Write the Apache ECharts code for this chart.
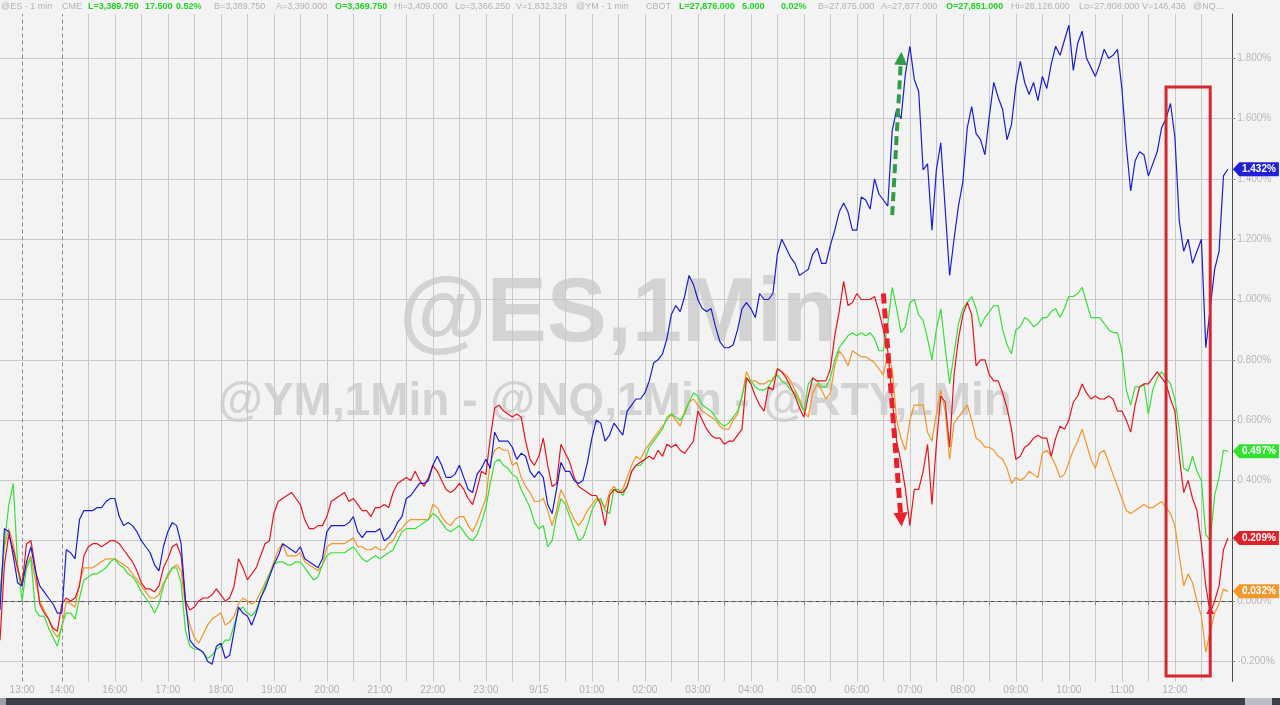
<!DOCTYPE html>
<html>
<head>
<meta charset="utf-8">
<script src="https://cdn.jsdelivr.net/npm/echarts@6/dist/echarts.min.js"></script>
<style>
html,body{margin:0;padding:0;background:#f3f3f4;}
#c{width:1280px;height:705px;}
</style>
</head>
<body>
<div id="c"></div>
<script>
// ---------- data (percent change, 5-minute slots) ----------
const nq = [ // blue
-0.03,0.24,0.23,0.15,0.06,0.05,0.13,0.18,0.10,0.05,
0.03,0.01,-0.01,-0.04,-0.04,0.17,0.16,0.14,0.27,0.30,
0.30,0.30,0.31,0.31,0.33,0.34,0.34,0.28,0.25,0.26,
0.25,0.23,0.20,0.18,0.16,0.12,0.10,0.18,0.23,0.26,
0.25,0.19,0.00,-0.13,-0.15,-0.16,-0.17,-0.20,-0.21,-0.15,
-0.14,-0.19,-0.18,-0.10,-0.02,-0.04,-0.05,-0.08,-0.04,0.01,
0.04,0.08,0.12,0.15,0.19,0.18,0.17,0.16,0.18,0.14,
0.13,0.12,0.11,0.14,0.23,0.25,0.25,0.25,0.25,0.26,
0.28,0.23,0.21,0.23,0.23,0.23,0.24,0.20,0.21,0.23,
0.26,0.28,0.34,0.35,0.37,0.39,0.39,0.40,0.45,0.48,
0.45,0.41,0.41,0.42,0.45,0.41,0.37,0.36,0.42,0.44,
0.47,0.44,0.56,0.53,0.53,0.53,0.51,0.47,0.49,0.48,
0.43,0.41,0.43,0.41,0.32,0.29,0.37,0.46,0.43,0.43,
0.40,0.39,0.40,0.46,0.54,0.60,0.59,0.53,0.55,0.59,
0.57,0.55,0.63,0.65,0.67,0.67,0.69,0.73,0.79,0.80,
0.82,0.87,0.95,0.98,0.96,1.01,1.08,1.05,1.00,0.97,
0.96,0.97,0.91,0.86,0.84,0.84,0.85,0.90,0.97,0.99,
0.97,0.94,1.02,1.00,1.00,1.02,1.15,1.20,1.17,1.14,
1.12,1.08,1.09,1.10,1.15,1.17,1.12,1.12,1.18,1.23,
1.29,1.32,1.29,1.23,1.23,1.34,1.33,1.30,1.40,1.35,
1.33,1.31,1.56,1.63,1.60,1.75,1.84,1.73,1.69,1.43,
1.45,1.23,1.43,1.52,1.30,1.08,1.20,1.31,1.39,1.57,
1.64,1.55,1.53,1.48,1.61,1.72,1.67,1.63,1.53,1.58,
1.71,1.79,1.72,1.68,1.72,1.66,1.74,1.70,1.78,1.84,
1.81,1.86,1.91,1.76,1.85,1.89,1.80,1.77,1.74,1.78,
1.83,1.80,1.81,1.83,1.70,1.51,1.36,1.46,1.49,1.48,
1.41,1.45,1.49,1.57,1.60,1.65,1.54,1.26,1.16,1.20,
1.12,1.16,1.20,0.84,0.97,1.10,1.16,1.41,1.432
];
const es = [ // green
0.00,0.19,0.32,0.39,0.12,0.00,0.11,0.14,-0.03,-0.05,
-0.05,-0.09,-0.12,-0.15,-0.08,-0.04,-0.04,-0.06,0.01,0.07,
0.08,0.09,0.09,0.10,0.11,0.13,0.14,0.12,0.11,0.09,
0.08,0.06,0.03,0.01,-0.01,-0.04,-0.01,0.05,0.09,0.11,
0.11,0.06,-0.10,-0.15,-0.16,-0.16,-0.17,-0.19,-0.18,-0.16,
-0.15,-0.13,-0.13,-0.08,-0.03,-0.02,-0.04,-0.05,-0.03,0.01,
0.05,0.09,0.12,0.13,0.13,0.12,0.12,0.13,0.13,0.11,
0.09,0.07,0.08,0.12,0.15,0.16,0.16,0.16,0.16,0.17,
0.18,0.16,0.14,0.13,0.14,0.15,0.14,0.15,0.16,0.17,
0.20,0.23,0.24,0.24,0.24,0.25,0.26,0.27,0.29,0.28,
0.26,0.24,0.23,0.24,0.25,0.23,0.21,0.20,0.22,0.26,
0.31,0.39,0.46,0.47,0.45,0.44,0.42,0.41,0.37,0.34,
0.31,0.26,0.24,0.25,0.18,0.20,0.28,0.34,0.32,0.28,
0.24,0.20,0.21,0.25,0.30,0.33,0.34,0.30,0.29,0.37,
0.37,0.35,0.38,0.43,0.45,0.45,0.47,0.51,0.53,0.55,
0.57,0.61,0.62,0.61,0.60,0.62,0.66,0.69,0.68,0.65,
0.64,0.63,0.61,0.59,0.58,0.59,0.61,0.63,0.68,0.74,
0.73,0.71,0.70,0.70,0.71,0.74,0.75,0.73,0.72,0.70,
0.69,0.66,0.63,0.72,0.74,0.73,0.71,0.71,0.74,0.80,
0.84,0.86,0.88,0.89,0.88,0.89,0.88,0.89,0.87,0.83,
0.83,0.92,1.04,0.97,0.89,0.91,0.99,1.00,0.95,0.93,
0.87,0.80,0.90,0.97,0.84,0.72,0.82,0.92,0.97,0.99,
1.01,0.97,0.91,0.94,0.96,0.98,0.98,0.90,0.85,0.82,
0.90,0.91,0.94,0.93,0.91,0.92,0.94,0.94,0.96,0.97,
0.94,0.97,1.01,1.01,1.02,1.04,0.99,0.94,0.94,0.94,
0.92,0.90,0.89,0.89,0.83,0.70,0.65,0.71,0.71,0.72,
0.62,0.70,0.74,0.76,0.74,0.72,0.67,0.57,0.44,0.43,
0.48,0.43,0.40,0.22,0.20,0.35,0.41,0.50,0.497
];
const rty = [ // red
-0.13,0.12,0.22,0.17,0.11,0.05,0.19,0.20,0.11,-0.01,
-0.04,-0.06,-0.09,-0.10,-0.01,0.01,0.00,0.01,0.05,0.15,
0.18,0.19,0.19,0.18,0.19,0.20,0.20,0.19,0.17,0.15,
0.13,0.10,0.06,0.04,0.04,0.03,0.05,0.11,0.14,0.18,
0.19,0.15,0.00,-0.03,-0.02,0.00,0.01,0.01,0.02,0.04,
0.02,0.00,0.01,0.05,0.14,0.11,0.07,0.09,0.11,0.15,
0.19,0.20,0.29,0.33,0.34,0.35,0.36,0.34,0.32,0.27,
0.24,0.24,0.25,0.25,0.28,0.33,0.34,0.35,0.36,0.33,
0.34,0.32,0.30,0.30,0.28,0.31,0.31,0.32,0.31,0.36,
0.39,0.40,0.41,0.40,0.43,0.40,0.38,0.41,0.45,0.43,
0.40,0.37,0.36,0.37,0.39,0.37,0.34,0.32,0.37,0.43,
0.42,0.54,0.64,0.65,0.63,0.62,0.61,0.62,0.61,0.53,
0.47,0.45,0.48,0.54,0.45,0.38,0.39,0.52,0.49,0.46,
0.41,0.38,0.37,0.36,0.35,0.35,0.32,0.25,0.35,0.37,
0.36,0.36,0.38,0.43,0.45,0.46,0.47,0.48,0.47,0.50,
0.48,0.52,0.51,0.52,0.50,0.49,0.51,0.53,0.63,0.60,
0.57,0.55,0.54,0.54,0.52,0.53,0.53,0.55,0.57,0.74,
0.72,0.68,0.65,0.63,0.71,0.70,0.77,0.76,0.74,0.71,
0.68,0.64,0.61,0.68,0.74,0.73,0.73,0.73,0.77,0.88,
0.96,1.06,0.98,0.99,1.02,1.00,1.00,1.00,1.01,0.96,
0.90,0.83,0.67,0.53,0.46,0.37,0.25,0.37,0.37,0.43,
0.52,0.32,0.52,0.68,0.66,0.51,0.75,0.87,0.95,0.99,
0.95,0.78,0.80,0.80,0.75,0.73,0.73,0.69,0.64,0.57,
0.47,0.48,0.51,0.52,0.54,0.55,0.54,0.54,0.48,0.54,
0.58,0.57,0.60,0.66,0.68,0.72,0.69,0.67,0.68,0.67,
0.67,0.68,0.67,0.63,0.63,0.60,0.56,0.65,0.71,0.72,
0.72,0.74,0.76,0.74,0.72,0.67,0.63,0.48,0.36,0.40,
0.34,0.30,0.19,0.05,-0.04,0.00,0.05,0.17,0.209
];
const ym = [ // orange
0.03,0.18,0.24,0.19,0.10,0.06,0.12,0.15,0.07,0.00,
-0.03,-0.06,-0.10,-0.12,-0.09,0.00,-0.01,-0.02,0.06,0.11,
0.11,0.11,0.12,0.13,0.14,0.14,0.14,0.13,0.12,0.11,
0.09,0.07,0.05,0.03,0.01,0.01,0.02,0.06,0.08,0.11,
0.12,0.10,-0.02,-0.08,-0.12,-0.14,-0.11,-0.08,-0.06,-0.05,
-0.04,-0.08,-0.07,-0.05,-0.01,0.01,0.00,-0.01,0.00,0.03,
0.06,0.09,0.13,0.17,0.19,0.15,0.15,0.15,0.16,0.13,
0.12,0.11,0.10,0.12,0.18,0.19,0.19,0.19,0.19,0.20,
0.21,0.18,0.18,0.17,0.17,0.18,0.17,0.17,0.19,0.20,
0.23,0.24,0.26,0.27,0.27,0.27,0.27,0.27,0.32,0.31,
0.28,0.26,0.25,0.27,0.28,0.28,0.25,0.23,0.26,0.30,
0.34,0.46,0.50,0.51,0.50,0.50,0.45,0.46,0.41,0.38,
0.36,0.33,0.33,0.34,0.30,0.25,0.30,0.37,0.34,0.30,
0.27,0.25,0.27,0.30,0.32,0.34,0.33,0.31,0.36,0.38,
0.36,0.37,0.41,0.45,0.48,0.47,0.50,0.52,0.54,0.56,
0.58,0.60,0.62,0.60,0.58,0.63,0.66,0.67,0.65,0.63,
0.62,0.61,0.60,0.58,0.57,0.57,0.60,0.62,0.68,0.76,
0.73,0.73,0.72,0.72,0.73,0.73,0.77,0.76,0.75,0.73,
0.70,0.67,0.63,0.61,0.69,0.72,0.70,0.67,0.69,0.78,
0.83,0.81,0.78,0.83,0.82,0.81,0.81,0.80,0.79,0.77,
0.75,0.82,0.77,0.60,0.54,0.50,0.60,0.65,0.65,0.65,
0.56,0.53,0.62,0.70,0.63,0.47,0.59,0.61,0.63,0.65,
0.60,0.54,0.53,0.51,0.51,0.50,0.48,0.47,0.44,0.39,
0.41,0.40,0.41,0.43,0.42,0.41,0.49,0.50,0.48,0.45,
0.41,0.42,0.46,0.50,0.53,0.57,0.52,0.47,0.44,0.49,
0.50,0.46,0.42,0.38,0.34,0.30,0.29,0.30,0.31,0.32,
0.31,0.31,0.32,0.33,0.31,0.29,0.25,0.15,0.05,0.09,
0.06,0.00,-0.05,-0.17,-0.10,-0.04,-0.01,0.04,0.032
];
const yTicks = [-0.2,0,0.2,0.4,0.6,0.8,1.0,1.2,1.4,1.6,1.8];
const headerItems = [
  ['@ES - 1 min',0],['CME',0],['L=3,389.750',1],['17.500',1],['0.52%',1],['B=3,389.750',0],['A=3,390.000',0],
  ['O=3,369.750',1],['Hi=3,409.000',0],['Lo=3,366.250',0],['V=1,832,329',0],
  ['@YM - 1 min',0],['CBOT',0],['L=27,876.000',1],['5.000',1],['0.02%',1],['B=27,875.000',0],['A=27,877.000',0],
  ['O=27,851.000',1],['Hi=28,128.000',0],['Lo=27,808.000',0],['V=146,436',0],['@NQ...',0]
];
const headerX = [1,62,88,145,176,214,276,335,394,455,516,576,646,679,742,781,818,881,946,1011,1079,1142,1193];

// 5-minute slot labels (session time, 15:00 hour skipped)
const N = 280;
const categories = [];
for (let i = 0; i < N; i++) {
  let m = i < 14 ? 780 + (i - 5) * 5 : (i < 26 ? 840 + (i - 14) * 5 : 960 + (i - 26) * 5);
  m = ((m % 1440) + 1440) % 1440;
  categories.push(String(Math.floor(m / 60)).padStart(2, '0') + ':' + String(m % 60).padStart(2, '0'));
}
const LAST_GRID = 272;
const isHalfHour = i => i === 5 || (i >= 14 && i <= LAST_GRID && (i - 14) % 6 === 0);

const COL = {nq:'#1c1cd4', es:'#36e036', rty:'#e3161f', ym:'#f29526'};
const tagCol = {nq:'#2020d8', es:'#2ee22e', rty:'#e2202a', ym:'#f3972c'};

function tag(key, arr) {
  const last = arr.length - 1;
  return {
    symbol: 'path://M0,7L7,0H50V14H7Z',
    symbolSize: [46, 14],
    symbolOffset: [28, 0],
    silent: true,
    z: 10,
    itemStyle: {color: tagCol[key]},
    label: {show: true, position: 'inside', offset: [3, 0], color: '#fff', fontSize: 10,
      fontWeight: 'bold', fontFamily: 'Liberation Sans, Arial', formatter: p => p.value.toFixed(3) + '%'},
    data: [{coord: [last, arr[last]], value: arr[last]}]
  };
}

const chart = echarts.init(document.getElementById('c'), null, {renderer: 'canvas'});
const header = headerItems.map((h, k) => ({
  type: 'text', x: headerX[k], y: 7, z: 20,
  style: {text: h[0], fill: h[1] ? '#1fd21f' : '#b2b2b2',
    font: (h[1] ? 'bold ' : '') + '9px "Liberation Sans", Arial', align: 'left', verticalAlign: 'middle'}
}));

chart.setOption({
  animation: false,
  backgroundColor: '#f3f3f4',
  grid: {left: 0, right: 47.7, top: 14, bottom: 23.5},
  xAxis: {
    type: 'category', data: categories, boundaryGap: false,
    axisLine: {lineStyle: {color: '#4a4a4a', width: 1}},
    axisTick: {interval: i => isHalfHour(i), length: 4, lineStyle: {color: '#8a8a8a'}},
    axisLabel: {interval: (i, v) => i <= LAST_GRID && v.endsWith(':00'), formatter: v => v === '00:00' ? '9/15' : v,
      color: '#b2b2b2', fontSize: 10, fontFamily: 'Liberation Sans, Arial', margin: 4},
    splitLine: {show: true, interval: i => i > 14 && i <= LAST_GRID && (i - 14) % 6 === 0,
      lineStyle: {color: '#c9c9c9', width: 1}}
  },
  yAxis: {
    type: 'value', position: 'right', min: -0.267, max: 1.947, splitNumber: 11, scale: true,
    axisLine: {show: true, lineStyle: {color: '#4a4a4a', width: 1}},
    axisTick: {show: true, length: 3, lineStyle: {color: '#8a8a8a'}},
    axisLabel: {showMinLabel: false, showMaxLabel: false, color: '#b8b8b8', fontSize: 10,
      fontFamily: 'Liberation Sans, Arial', margin: 5, formatter: v => v.toFixed(3) + '%'},
    splitLine: {show: false}
  },
  graphic: [
    {type: 'text', x: 618, y: 316, z: -10, silent: true,
      style: {text: '@ES,1Min', fill: '#d3d3d3', font: 'bold 90px "Liberation Sans", Arial', align: 'center', verticalAlign: 'middle'}},
    {type: 'text', x: 615, y: 402, z: -10, silent: true,
      style: {text: '@YM,1Min - @NQ,1Min - @RTY,1Min', fill: '#d3d3d3', font: 'bold 46px "Liberation Sans", Arial', align: 'center', verticalAlign: 'middle'}},
    {type: 'rect', z: 20, shape: {x: 0, y: 698, width: 1280, height: 7}, style: {fill: '#3b3f48'}},
    {type: 'rect', z: 21, shape: {x: 0, y: 698, width: 6, height: 7}, style: {fill: '#9ca0a8'}},
    {type: 'rect', z: 21, shape: {x: 1245, y: 698, width: 27, height: 7}, style: {fill: '#b9bdc5'}},
    ...header
  ],
  series: [
    {name: '@YM', type: 'line', data: ym, showSymbol: false, lineStyle: {color: COL.ym, width: 1.2}, itemStyle: {color: COL.ym},
      markLine: {silent: true, z: 1, symbol: 'none', label: {show: false},
        data: yTicks.map(v => ({yAxis: v, lineStyle: {type: v === 0 ? [4, 3] : 'solid', color: v === 0 ? '#8c8c8c' : '#c9c9c9', width: 1}}))
          .concat([5, 14].map(i => ({xAxis: i, lineStyle: {type: [4, 3], color: '#8c8c8c', width: 1}})))},
      markPoint: tag('ym', ym)},
    {name: '@ES', type: 'line', data: es, showSymbol: false, lineStyle: {color: COL.es, width: 1.2}, itemStyle: {color: COL.es},
      markPoint: tag('es', es)},
    {name: '@RTY', type: 'line', data: rty, showSymbol: false, lineStyle: {color: COL.rty, width: 1.2}, itemStyle: {color: COL.rty},
      markPoint: tag('rty', rty),
      markLine: {silent: true, z: 8, symbol: ['none', 'triangle'], label: {show: false},
        data: [
          [{coord: [202, 1.28], symbol: 'none', lineStyle: {color: '#2f9c46', width: 4, type: [9, 5]}},
           {coord: [204, 1.80], symbol: 'triangle', symbolSize: 13}],
          [{coord: [200, 1.02], symbol: 'none', lineStyle: {color: '#e8212b', width: 5, type: [10, 5]}},
           {coord: [204, 0.27], symbol: 'triangle', symbolSize: 14}],
          [{coord: [274, -0.08], symbol: 'none', lineStyle: {color: '#e8212b', width: 2, type: 'solid'}},
           {coord: [274, -0.03], symbol: 'triangle', symbolSize: 8}]
        ]}},
    {name: '@NQ', type: 'line', data: nq, showSymbol: false, lineStyle: {color: COL.nq, width: 1.2}, itemStyle: {color: COL.nq},
      markPoint: tag('nq', nq),
      markArea: {silent: true, z: 8, itemStyle: {color: 'rgba(0,0,0,0)', borderColor: '#d6252d', borderWidth: 3},
        data: [[{coord: [264, 1.705]}, {coord: [274, -0.249]}]]}}
  ]
});
</script>
</body>
</html>
